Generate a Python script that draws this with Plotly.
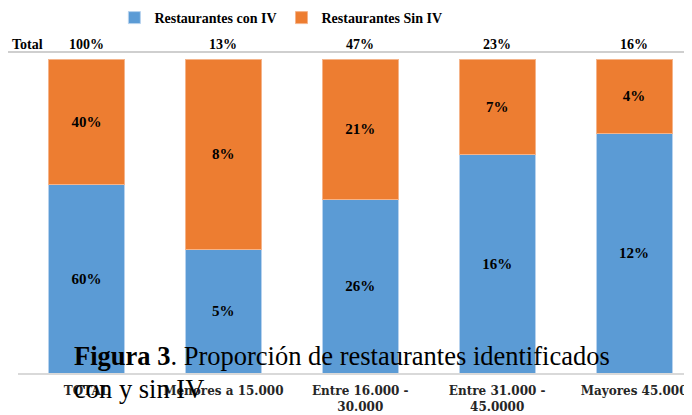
import plotly.graph_objects as go

categorias = ["TOTAL", "Menores a 15.000", "Entre 16.000 -<br>30.000",
              "Entre 31.000 -<br>45.0000", "Mayores 45.000"]
con_iv = [60, 5.1, 26, 16, 12.2]
sin_iv = [40, 7.9, 21, 7, 3.8]
total = ["100%", "13%", "47%", "23%", "16%"]

AZUL = "#5B9BD5"
NARANJA = "#ED7D31"
SERIF = "Liberation Serif"

x = list(range(len(categorias)))

fig = go.Figure()
fig.add_trace(go.Bar(
    x=x, y=con_iv, name="Restaurantes con IV",
    marker=dict(color=AZUL, line=dict(color="#b7d2ee", width=1)),
    text=[f"{v:.0f}%" for v in con_iv], textposition="inside",
    insidetextanchor="middle",
    textfont=dict(family=SERIF, size=15, color="black", weight="bold"),
))
fig.add_trace(go.Bar(
    x=x, y=sin_iv, name="Restaurantes Sin IV",
    marker=dict(color=NARANJA, line=dict(color="#f5b48a", width=1)),
    text=[f"{v:.0f}%" for v in sin_iv], textposition="inside",
    insidetextanchor="middle",
    textfont=dict(family=SERIF, size=15, color="black", weight="bold"),
))

# fila "Total" sobre las barras
fig.add_annotation(x=-0.012, y=1.045, xref="paper", yref="paper", text="<b>Total</b>",
                   showarrow=False, xanchor="left", yanchor="middle",
                   font=dict(family=SERIF, size=14, color="black"))
for i, t in enumerate(total):
    fig.add_annotation(x=i, y=1.045, xref="x", yref="paper", text=f"<b>{t}</b>",
                       showarrow=False, yanchor="middle",
                       font=dict(family=SERIF, size=14, color="black"))
fig.add_shape(type="line", xref="paper", yref="paper", x0=-0.015, x1=1, y0=1.022, y1=1.022,
              line=dict(color="#bfbfbf", width=1.5))

# pie de figura que se superpone al gráfico
fig.add_annotation(x=0.080, y=0.054, xref="paper", yref="paper", xanchor="left",
                   yanchor="middle",
                   text="<b>Figura 3</b>. Proporción de restaurantes identificados",
                   showarrow=False, font=dict(family=SERIF, size=26.5, color="black"))
fig.add_annotation(x=0.080, y=-0.051, xref="paper", yref="paper", xanchor="left",
                   yanchor="middle", text="con y sin IV",
                   showarrow=False, font=dict(family=SERIF, size=26.5, color="black"))

fig.update_layout(
    barmode="stack", barnorm="percent", bargap=0.445,
    width=684, height=407,
    margin=dict(l=10, r=0, t=51, b=42, autoexpand=False),
    plot_bgcolor="white", paper_bgcolor="white",
    legend=dict(orientation="h", x=0.143, y=1.1815, xanchor="left", yanchor="top",
                font=dict(family=SERIF, size=14, color="black", weight="bold"),
                itemwidth=30, traceorder="normal"),
    xaxis=dict(range=[-0.5, 4.423], tickvals=x, ticktext=categorias,
               showline=True, linecolor="#d9d9d9", linewidth=1.5,
               tickfont=dict(family="DejaVu Serif", size=12, color="#262626", weight="bold"),
               ticklabelstandoff=6),
    yaxis=dict(range=[0, 100], visible=False),
)

fig.write_html("out.html")
